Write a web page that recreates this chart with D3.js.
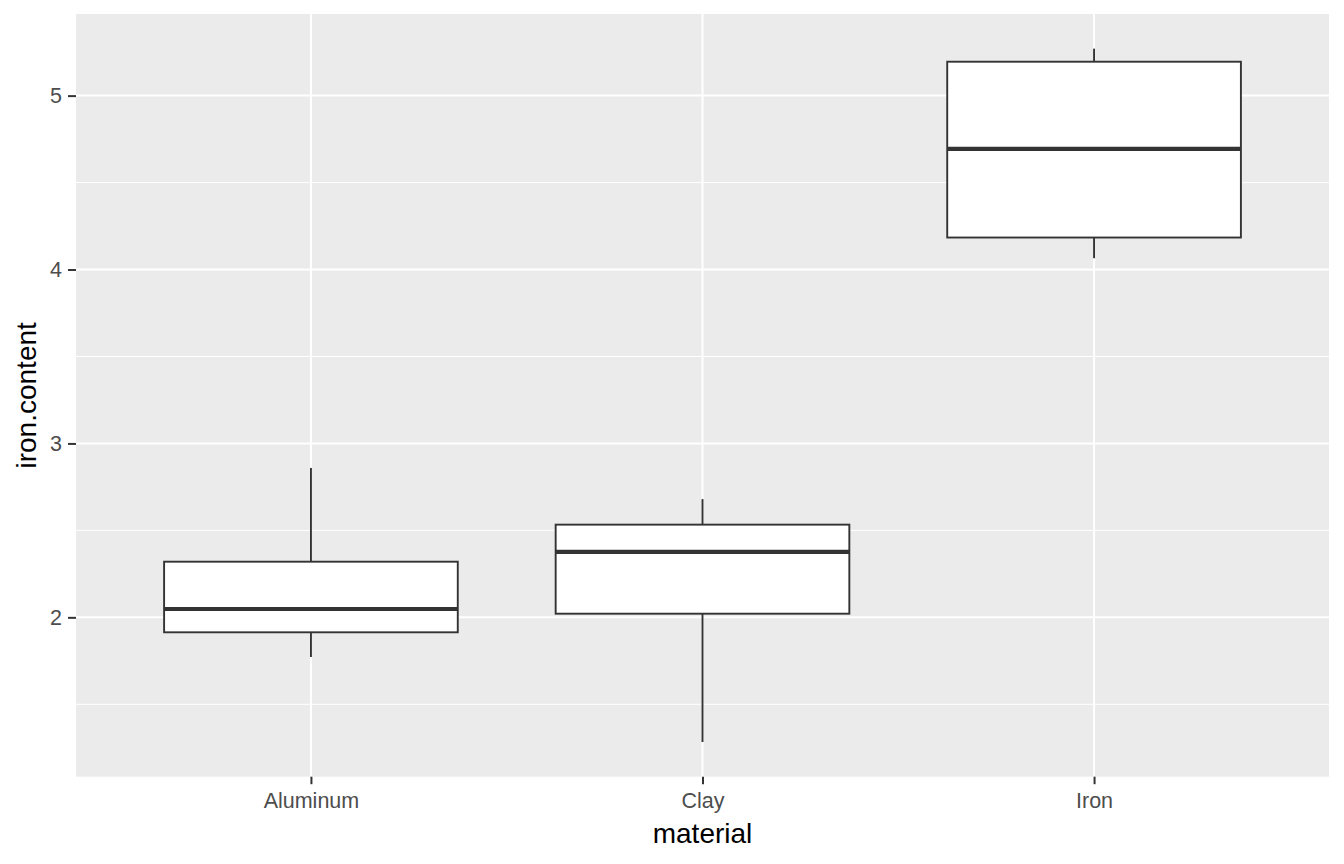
<!DOCTYPE html>
<html>
<head>
<meta charset="utf-8">
<script src="https://cdn.jsdelivr.net/npm/d3@7"></script>
<style>
  html, body { margin: 0; padding: 0; background: #fff; }
  svg { display: block; font-family: "Liberation Sans", Arial, sans-serif; }
</style>
</head>
<body>
<svg id="chart" width="1344" height="864"></svg>
<script>
// ---- data ----
const categories  = ["Aluminum", "Clay", "Iron"];
const whiskerLow  = [1.772, 1.283, 4.065];
const q1          = [1.914, 2.021, 4.184];
const median      = [2.048, 2.376, 4.694];
const q3          = [2.320, 2.533, 5.195];
const whiskerHigh = [2.859, 2.680, 5.270];
const yTicks      = [2, 3, 4, 5];
const yMinor      = [1.5, 2.5, 3.5, 4.5];
const xTitle = "material";
const yTitle = "iron.content";

const rows = categories.map((c, i) => ({
  cat: c, lo: whiskerLow[i], q1: q1[i], med: median[i], q3: q3[i], hi: whiskerHigh[i]
}));

// ---- layout ----
const W = 1344, H = 864;
const panel = { left: 76, right: 1329, top: 14, bottom: 776.7 };

const svg = d3.select("#chart");

// y scale with ggplot-like 5% expansion
const yMin = d3.min(whiskerLow), yMax = d3.max(whiskerHigh);
const pad = (yMax - yMin) * 0.05;
const y = d3.scaleLinear().domain([yMin - pad, yMax + pad]).range([panel.bottom, panel.top]);

// discrete x with 0.6 expansion on each side
const x = d3.scalePoint().domain(categories)
  .range([panel.left, panel.right]).padding(0.6);
const unit = x.step();
const boxW = unit * 0.75;

// panel background
svg.append("rect")
  .attr("x", panel.left).attr("y", panel.top)
  .attr("width", panel.right - panel.left).attr("height", panel.bottom - panel.top)
  .attr("fill", "#EBEBEB");

// minor grid
svg.append("g").selectAll("line").data(yMinor).join("line")
  .attr("x1", panel.left).attr("x2", panel.right)
  .attr("y1", d => y(d)).attr("y2", d => y(d))
  .attr("stroke", "#fff").attr("stroke-width", 1);

// major grid
svg.append("g").selectAll("line").data(yTicks).join("line")
  .attr("x1", panel.left).attr("x2", panel.right)
  .attr("y1", d => y(d)).attr("y2", d => y(d))
  .attr("stroke", "#fff").attr("stroke-width", 2);
svg.append("g").selectAll("line").data(categories).join("line")
  .attr("x1", d => x(d)).attr("x2", d => x(d))
  .attr("y1", panel.top).attr("y2", panel.bottom)
  .attr("stroke", "#fff").attr("stroke-width", 2);

// boxes
const g = svg.append("g").selectAll("g").data(rows).join("g");
const ink = "#333333";
g.append("line")
  .attr("x1", d => x(d.cat)).attr("x2", d => x(d.cat))
  .attr("y1", d => y(d.hi)).attr("y2", d => y(d.q3))
  .attr("stroke", ink).attr("stroke-width", 1.9);
g.append("line")
  .attr("x1", d => x(d.cat)).attr("x2", d => x(d.cat))
  .attr("y1", d => y(d.q1)).attr("y2", d => y(d.lo))
  .attr("stroke", ink).attr("stroke-width", 1.9);
g.append("rect")
  .attr("x", d => x(d.cat) - boxW / 2).attr("width", boxW)
  .attr("y", d => y(d.q3)).attr("height", d => y(d.q1) - y(d.q3))
  .attr("fill", "#fff").attr("stroke", ink).attr("stroke-width", 1.9);
g.append("line")
  .attr("x1", d => x(d.cat) - boxW / 2).attr("x2", d => x(d.cat) + boxW / 2)
  .attr("y1", d => y(d.med)).attr("y2", d => y(d.med))
  .attr("stroke", ink).attr("stroke-width", 4.2);

// axes
const yAxis = d3.axisLeft(y).tickValues(yTicks).tickSize(8).tickPadding(6).tickFormat(d3.format("d"));
const ya = svg.append("g").attr("transform", `translate(${panel.left},0)`).call(yAxis);
ya.select(".domain").remove();
ya.selectAll(".tick line").attr("stroke", ink).attr("stroke-width", 2);
ya.selectAll(".tick text").attr("fill", "#4D4D4D").attr("font-size", 21.5)
  .attr("font-family", "Liberation Sans, Arial, sans-serif");

const xAxis = d3.axisBottom(x).tickSize(7.5).tickPadding(9);
const xa = svg.append("g").attr("transform", `translate(0,${panel.bottom})`).call(xAxis);
xa.select(".domain").remove();
xa.selectAll(".tick line").attr("stroke", ink).attr("stroke-width", 2);
xa.selectAll(".tick text").attr("fill", "#4D4D4D").attr("font-size", 21.5)
  .attr("font-family", "Liberation Sans, Arial, sans-serif");

// titles
svg.append("text")
  .attr("x", (panel.left + panel.right) / 2).attr("y", 843)
  .attr("text-anchor", "middle").attr("font-size", 28).attr("fill", "#000")
  .text(xTitle);
svg.append("text")
  .attr("transform", `translate(36,${(panel.top + panel.bottom) / 2}) rotate(-90)`)
  .attr("text-anchor", "middle").attr("font-size", 28).attr("fill", "#000")
  .text(yTitle);
</script>
</body>
</html>
